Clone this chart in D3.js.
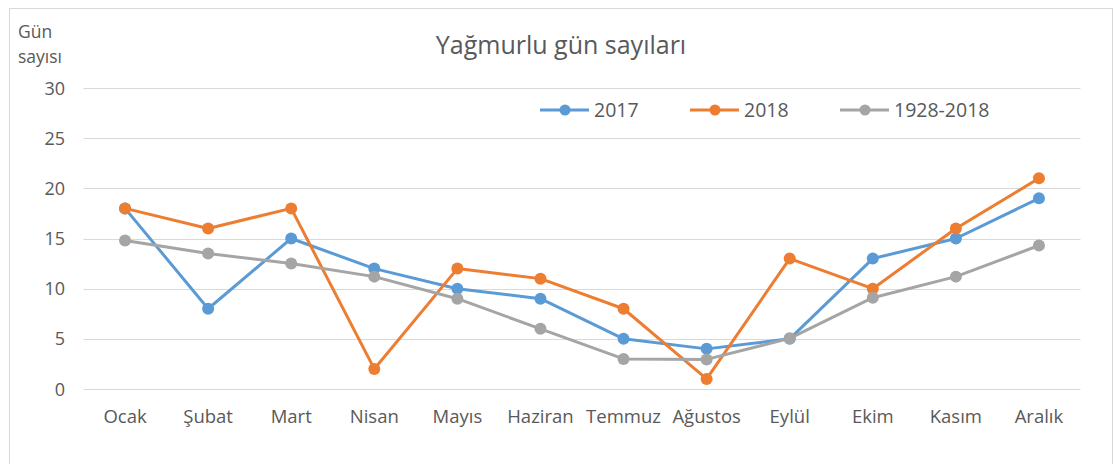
<!DOCTYPE html>
<html><head><meta charset="utf-8">
<script src="https://cdn.jsdelivr.net/npm/d3@7"></script>
<style>body{margin:0;background:#fff;} svg{display:block;}</style>
</head><body>
<svg id="c" width="1115" height="464"></svg>
<script>
const months = ["Ocak","Şubat","Mart","Nisan","Mayıs","Haziran","Temmuz","Ağustos","Eylül","Ekim","Kasım","Aralık"];
const s2017 = [18,8,15,12,10,9,5,4,5,13,15,19];
const s2018 = [18,16,18,2,12,11,8,1,13,10,16,21];
const sLong = [14.8,13.5,12.5,11.2,9,6,3,2.95,5.05,9.1,11.2,14.3];
const yTicks = [0,5,10,15,20,25,30];
const seriesNames = ["2017","2018","1928-2018"];
const colors = ["#5B9BD5","#ED7D31","#A5A5A5"];
const series = [s2017, s2018, sLong];

const svg = d3.select("#c");
const font = "'Open Sans',sans-serif";
const txt = "#595959";
svg.append("rect").attr("x",9.5).attr("y",8.5).attr("width",1103).attr("height",470)
  .attr("fill","#fff").attr("stroke","#D9D9D9");

const x = d3.scaleBand().domain(months).range([83.5,1080.5]);
const y = d3.scaleLinear().domain([0,30]).range([389,88]);

// gridlines
svg.append("g").selectAll("line").data(yTicks).join("line")
  .attr("x1",83.5).attr("x2",1080.5)
  .attr("y1",d=>Math.round(y(d))+0.5).attr("y2",d=>Math.round(y(d))+0.5)
  .attr("stroke","#D9D9D9").attr("stroke-width",1);

// y tick labels
svg.append("g").selectAll("text").data(yTicks).join("text")
  .attr("x",65).attr("y",d=>y(d)+6.5).attr("text-anchor","end")
  .attr("font-family",font).attr("font-size",18).attr("fill",txt)
  .text(d=>d);

// x labels
svg.append("g").selectAll("text").data(months).join("text")
  .attr("x",d=>x(d)+x.bandwidth()/2).attr("y",423).attr("text-anchor","middle")
  .attr("font-family",font).attr("font-size",18.5).attr("fill",txt)
  .text(d=>d);

// title
svg.append("text").attr("x",561).attr("y",54).attr("text-anchor","middle")
  .attr("font-family",font).attr("font-size",25).attr("fill",txt)
  .text("Yağmurlu gün sayıları");
svg.append("text").attr("x",18).attr("y",38)
  .attr("font-family",font).attr("font-size",17.5).attr("fill",txt).text("Gün");
svg.append("text").attr("x",18).attr("y",63)
  .attr("font-family",font).attr("font-size",17.5).attr("fill",txt).text("sayısı");

const line = d3.line().x((d,i)=>x(months[i])+x.bandwidth()/2).y(d=>y(d));
series.forEach((s,k)=>{
  const g = svg.append("g");
  g.append("path").attr("d",line(s)).attr("fill","none").attr("stroke",colors[k])
    .attr("stroke-width",3).attr("stroke-linejoin","round");
  g.selectAll("circle").data(s).join("circle")
    .attr("cx",(d,i)=>x(months[i])+x.bandwidth()/2).attr("cy",d=>y(d)).attr("r",6)
    .attr("fill",colors[k]);
});

// legend
const legX = [540,690,840];
seriesNames.forEach((n,k)=>{
  const g = svg.append("g").attr("transform",`translate(${legX[k]},110)`);
  g.append("line").attr("x1",0).attr("x2",49).attr("y1",0).attr("y2",0)
    .attr("stroke",colors[k]).attr("stroke-width",3);
  g.append("circle").attr("cx",25).attr("cy",0).attr("r",5.5).attr("fill",colors[k]);
  g.append("text").attr("x",54).attr("y",7).attr("font-family",font)
    .attr("font-size",19.5).attr("fill",txt).text(n);
});
</script>
</body></html>
